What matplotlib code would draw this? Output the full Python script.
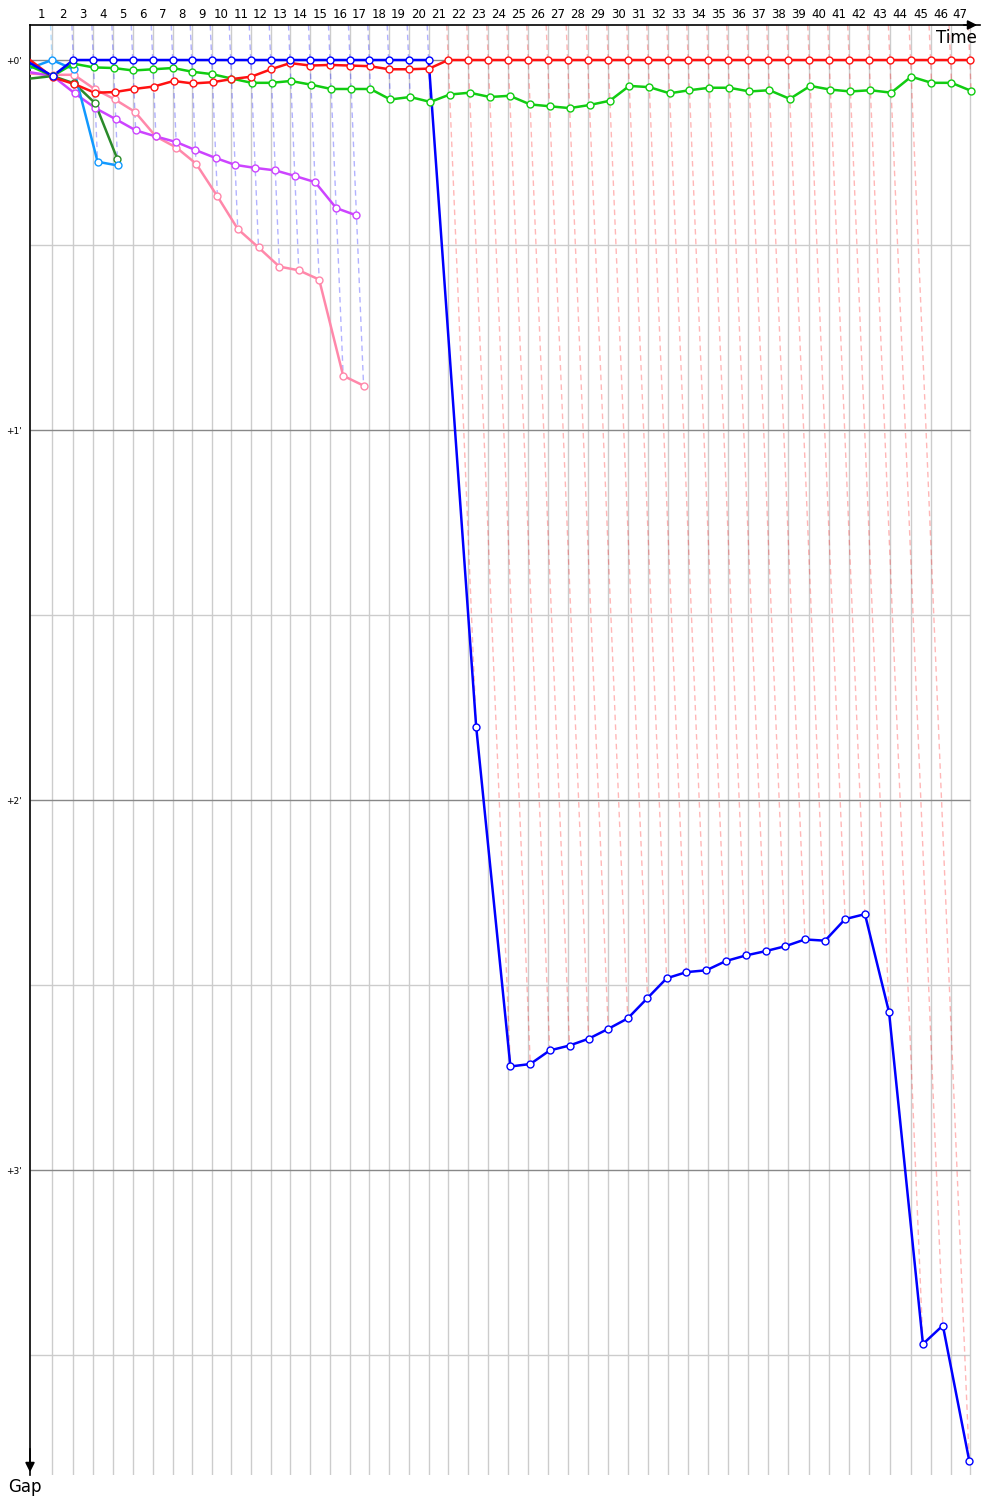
import numpy as np
import matplotlib.pyplot as plt

# leader lap times (s), laps 1..47
lead_lap_s = [85.2, 82.5, 77.4, 77.4, 75.1, 77.4, 77.4, 73.5, 77.4, 73.5,
              77.4, 77.4, 74.7, 77.4, 77.4, 77.4, 74.7, 75.1, 77.4, 77.4,
              75.9, 77.4, 77.4, 77.4, 77.4, 75.1, 77.4, 77.4, 79.7, 77.4,
              77.4, 77.4, 77.4, 77.4, 77.4, 77.4, 77.4, 77.4, 81.3, 77.4,
              77.4, 77.4, 80.1, 80.1, 77.4, 77.4, 74.7]

# gap to leader (s) at the end of each lap, starting from lap 0
gap_blue = [0.5, 2.6, 0, 0, 0, 0, 0, 0, 0, 0, 0, 0, 0, 0, 0, 0, 0, 0, 0, 0, 0,
            108.1, 163.2, 162.8, 160.6, 159.8, 158.7, 157.1, 155.4, 152.1, 148.9,
            147.9, 147.6, 146.1, 145.2, 144.5, 143.7, 142.6, 142.8, 139.3, 138.5,
            154.4, 208.2, 205.2, 227.1]
gap_red = [0, 2.8, 3.9, 5.3, 5.2, 4.7, 4.3, 3.4, 3.8, 3.6, 3.1, 2.7, 1.5, 0.5,
           0.9, 0.8, 0.9, 1.0, 1.5, 1.5, 1.4,
           0, 0, 0, 0, 0, 0, 0, 0, 0, 0, 0, 0, 0, 0, 0, 0, 0, 0, 0, 0, 0, 0, 0,
           0, 0, 0, 0]
gap_green = [1.0, 2.6, 0.6, 1.2, 1.3, 1.7, 1.5, 1.3, 1.9, 2.3, 3.0, 3.7, 3.7,
             3.4, 4.0, 4.7, 4.7, 4.7, 6.4, 6.0, 6.8, 5.6, 5.3, 6.0, 5.8, 7.2,
             7.5, 7.8, 7.3, 6.6, 4.2, 4.4, 5.4, 4.9, 4.5, 4.5, 5.1, 4.9, 6.3,
             4.2, 4.8, 5.1, 4.9, 5.3, 2.7, 3.7, 3.7, 5.0]
gap_lightblue = [1.3, 0, 1.5, 16.5, 17.1]
gap_darkgreen = [3.0, 2.6, 3.8, 7.0, 16.1]
gap_purple = [2.0, 2.6, 5.4, 7.8, 9.6, 11.4, 12.4, 13.3, 14.6, 15.9, 17.0,
              17.5, 17.9, 18.8, 19.8, 24.0, 25.2]
gap_pink = [2.2, 2.4, 2.4, 4.7, 6.4, 8.4, 12.4, 14.2, 16.8, 22.1, 27.4, 30.4,
            33.5, 34.1, 35.6, 51.2, 52.8]

drivers = [
    (gap_pink, '#ff88aa'),
    (gap_purple, '#cc44ff'),
    (gap_darkgreen, '#2a8a2a'),
    (gap_lightblue, '#1199ff'),
    (gap_green, '#11cc11'),
    (gap_red, '#ff1111'),
    (gap_blue, '#0000ff'),
]

lead_t = np.concatenate([[0], np.cumsum(lead_lap_s)]) / 60.0  # minutes
n_laps = len(lead_lap_s)

y_top, y_bot = -0.0946, 3.824
x_max = 61.29

fig = plt.figure(figsize=(10, 15), dpi=100)
ax = fig.add_axes([0.03, 25 / 1500, 0.95, 1450 / 1500])
ax.set_xlim(0, x_max)
ax.set_ylim(y_bot, y_top)

# grid
ax.vlines(lead_t[1:], y_top, y_bot, color='#cccccc', lw=1, zorder=1)
ax.hlines([0.5, 1.5, 2.5, 3.5], 0, lead_t[-1], color='#cccccc', lw=1, zorder=1)
ax.hlines([0, 1, 2, 3], 0, lead_t[-1], color='#888888', lw=1, zorder=1)

# lap lines from the leader down to the last car of that lap
for n in range(1, n_laps + 1):
    on_lap = [(g[n] / 60.0, c) for g, c in drivers if len(g) > n]
    g_max = max(v for v, _ in on_lap)
    lead_col = min(on_lap, key=lambda p: p[0])[1]
    ax.plot([lead_t[n] + y_top, lead_t[n] + g_max], [y_top, g_max],
            color=lead_col, alpha=0.3, lw=1, ls=(0, (4, 3)), zorder=2)

for g, c in drivers:
    g = np.array(g) / 60.0
    x = lead_t[:len(g)] + g
    ax.plot(x, g, color=c, lw=1.8, zorder=3)
    ax.plot(x[1:], g[1:], 'o', mfc='white', mec=c, ms=5, mew=1, zorder=4)

# axes
for s in ['right', 'bottom']:
    ax.spines[s].set_visible(False)
ax.spines['left'].set_linewidth(1.2)
ax.spines['top'].set_linewidth(1.2)
ax.xaxis.tick_top()
mids = (lead_t[:-1] + lead_t[1:]) / 2
ax.set_xticks(mids)
ax.set_xticklabels([str(i) for i in range(1, n_laps + 1)], fontsize=8.5)
ax.set_yticks([0, 1, 2, 3])
ax.set_yticklabels(["+0'", "+1'", "+2'", "+3'"], fontsize=6.5)
ax.tick_params(axis='x', length=0, pad=3)
ax.tick_params(axis='y', length=0, pad=6)

ax.annotate('', xy=(1.0, 1.0), xytext=(0.98, 1.0), xycoords='axes fraction',
            arrowprops=dict(arrowstyle='-|>', color='k', lw=1.2, mutation_scale=14))
ax.annotate('', xy=(0.0, 0.0), xytext=(0.0, 0.02), xycoords='axes fraction',
            arrowprops=dict(arrowstyle='-|>', color='k', lw=1.2, mutation_scale=14))
ax.text(0.997, 0.997, 'Time', transform=ax.transAxes, ha='right', va='top',
        fontsize=12)
ax.text(-0.005, -0.002, 'Gap', transform=ax.transAxes, ha='center', va='top',
        fontsize=12)

plt.savefig('out.png')
